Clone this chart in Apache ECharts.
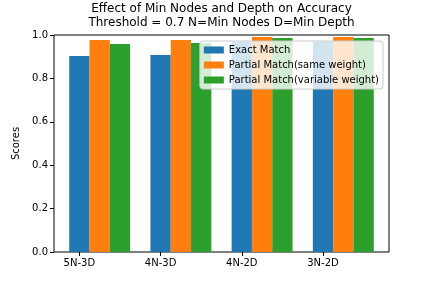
<!DOCTYPE html>
<html><head><meta charset="utf-8">
<script src="https://cdn.jsdelivr.net/npm/echarts@6/dist/echarts.min.js"></script>
<style>html,body{margin:0;padding:0;background:#fff}#c{width:432px;height:288px}</style>
</head><body><div id="c"></div>
<script>
const categories = ['5N-3D', '4N-3D', '4N-2D', '3N-2D'];
const exactMatch = [0.903, 0.908, 0.970, 0.970];
const partialSame = [0.977, 0.977, 0.991, 0.991];
const partialVariable = [0.959, 0.963, 0.986, 0.986];
const seriesNames = ['Exact Match', 'Partial Match(same weight)', 'Partial Match(variable weight)'];
const yTicks = [0, 0.2, 0.4, 0.6, 0.8, 1.0];

const colors = ['#1f77b4', '#ff7f0e', '#2ca02c'];
const barUnit = 0.25;
const font = 'DejaVu Sans';
const allSeries = [exactMatch, partialSame, partialVariable];
const tickPos = categories.map((c, i) => i);

const chart = echarts.init(document.getElementById('c'), null, {renderer: 'canvas'});
chart.setOption({
  animation: false,
  backgroundColor: '#fff',
  title: {
    text: 'Effect of Min Nodes and Depth on Accuracy\nThreshold = 0.7 N=Min Nodes D=Min Depth',
    left: 221.5, top: 2, padding: 0, textAlign: 'center',
    textStyle: {fontFamily: font, fontSize: 12, fontWeight: 'normal', color: '#000', lineHeight: 14}
  },
  legend: {
    data: seriesNames,
    orient: 'vertical',
    right: 49, top: 41,
    itemWidth: 20, itemHeight: 7, itemGap: 5,
    padding: [4, 4, 4, 4],
    backgroundColor: 'rgba(255,255,255,0.8)',
    borderColor: '#cccccc', borderWidth: 1, borderRadius: 3,
    textStyle: {fontFamily: font, fontSize: 10, color: '#000'},
    icon: 'rect'
  },
  grid: {left: 54, right: 43, top: 35, bottom: 36, show: true, borderColor: '#000', borderWidth: 1, backgroundColor: 'transparent'},
  xAxis: {
    type: 'value', min: -0.3125, max: 3.8125,
    splitLine: {show: false},
    axisLine: {show: false, onZero: false},
    axisTick: {show: true, customValues: tickPos, length: 4, lineStyle: {color: '#000'}},
    axisLabel: {customValues: tickPos, formatter: v => categories[Math.round(v)] || '', fontFamily: font, fontSize: 10, color: '#000', margin: 6}
  },
  yAxis: {
    type: 'value', min: 0, max: 1, interval: 0.2,
    name: 'Scores', nameLocation: 'middle', nameGap: 26,
    nameTextStyle: {fontFamily: font, fontSize: 10, color: '#000'},
    splitLine: {show: false},
    axisLine: {show: false, onZero: false},
    axisTick: {show: true, length: 4, lineStyle: {color: '#000'}},
    axisLabel: {formatter: v => v.toFixed(1), fontFamily: font, fontSize: 10, color: '#000', margin: 6}
  },
  series: allSeries.map((vals, s) => ({
    name: seriesNames[s],
    type: 'bar',
    barWidth: 20.3,
    barGap: '-100%',
    itemStyle: {color: colors[s]},
    data: vals.map((v, i) => [i + s * barUnit, v])
  }))
});
</script></body></html>
